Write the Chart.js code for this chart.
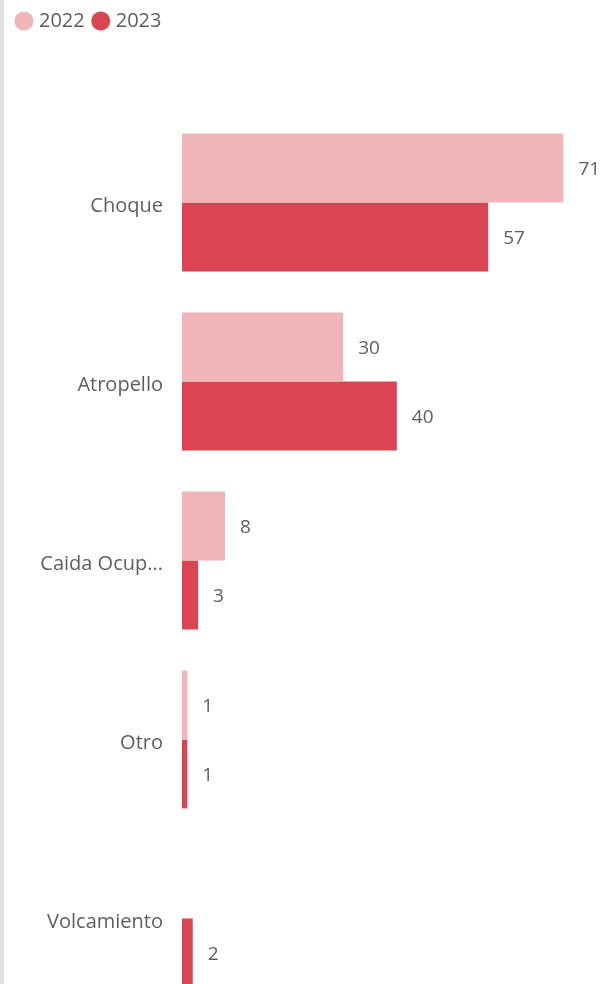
<!DOCTYPE html>
<html lang="es">
<head>
  <meta charset="UTF-8">
  <title>Siniestros por tipo</title>
  <script src="https://cdn.jsdelivr.net/npm/chart.js"></script>
  <style>
    html, body { margin: 0; padding: 0; background: #fff; overflow: hidden; }
    .wrap { position: relative; width: 601px; height: 984px; overflow: hidden; }
    .edge { position: absolute; left: 0; top: 0; width: 4px; height: 984px; background: #e1e1e1; z-index: 2; }
    canvas { position: absolute; left: 0; top: 0; }
  </style>
</head>
<body>
  <div class="wrap">
    <div class="edge"></div>
    <canvas id="chart" width="601" height="1008"></canvas>
  </div>

  <script>
    // datos
    const categorias = ['Choque', 'Atropello', 'Caida Ocupante', 'Otro', 'Volcamiento'];
    const valores2022 = [71, 30, 8, 1, null];
    const valores2023 = [57, 40, 3, 1, 2];
    const anios = ['2022', '2023'];

    const colores = ['#efb5b9', '#d94552'];
    const gris = '#605e5c';
    const fuente = "'Open Sans', sans-serif";

    // etiquetas de valor al final de cada barra
    const etiquetas = {
      id: 'etiquetas',
      afterDatasetsDraw(chart) {
        const ctx = chart.ctx;
        ctx.save();
        ctx.font = '19px ' + fuente;
        ctx.fillStyle = gris;
        ctx.textBaseline = 'middle';
        ctx.textAlign = 'left';
        chart.data.datasets.forEach((ds, i) => {
          chart.getDatasetMeta(i).data.forEach((bar, j) => {
            const v = ds.data[j];
            if (v === null || v === undefined) return;
            ctx.fillText(v, bar.x + 15, bar.y + 2);
          });
        });
        ctx.restore();
      }
    };

    new Chart(document.getElementById('chart'), {
      type: 'bar',
      data: {
        labels: categorias,
        datasets: [
          { label: anios[0], data: valores2022, backgroundColor: colores[0] },
          { label: anios[1], data: valores2023, backgroundColor: colores[1] }
        ]
      },
      options: {
        indexAxis: 'y',
        responsive: false,
        animation: false,
        layout: { padding: { left: 8, right: 0, top: 0, bottom: 0 } },
        datasets: {
          bar: { categoryPercentage: 0.77, barPercentage: 1.0 }
        },
        plugins: {
          tooltip: { enabled: false },
          legend: {
            position: 'top',
            align: 'start',
            labels: {
              usePointStyle: true,
              pointStyle: 'circle',
              boxWidth: 10,
              boxHeight: 13.5,
              padding: 11,
              color: gris,
              font: { family: fuente, size: 20 }
            }
          }
        },
        scales: {
          x: {
            position: 'top',
            min: 0,
            max: 78,
            ticks: { display: false },
            grid: { display: false, drawTicks: false },
            border: { display: false },
            afterFit(s) { s.height = 72; }
          },
          y: {
            grid: { display: false, drawTicks: false },
            border: { display: false },
            ticks: {
              color: gris,
              padding: 19,
              labelOffset: 4,
              font: { family: fuente, size: 20 },
              callback: function (v) {
                const l = this.getLabelForValue(v);
                return l.length > 12 ? l.slice(0, 10) + '...' : l;
              }
            },
            afterFit(s) {
              s.width = 174;
              s.paddingTop = 0;
              s.paddingBottom = 0;
            }
          }
        }
      },
      plugins: [etiquetas]
    });
  </script>
</body>
</html>
